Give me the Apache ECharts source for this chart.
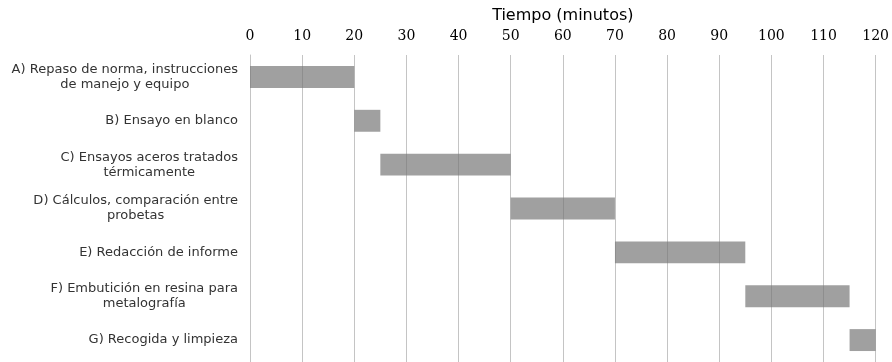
<!DOCTYPE html>
<html>
<head>
<meta charset="utf-8">
<script src="https://cdn.jsdelivr.net/npm/echarts@6/dist/echarts.min.js"></script>
<style>
  html, body { margin: 0; padding: 0; background: #fff; }
  #chart { width: 892px; height: 362px; }
</style>
</head>
<body>
<div id="chart"></div>
<script>
// Task list (top to bottom) with start times and durations, in minutes
const tasks = [
  'A) Repaso de norma, instrucciones\nde manejo y equipo',
  'B) Ensayo en blanco',
  'C) Ensayos aceros tratados\ntérmicamente',
  'D) Cálculos, comparación entre\nprobetas',
  'E) Redacción de informe',
  'F) Embutición en resina para\nmetalografía',
  'G) Recogida y limpieza'
];
const startMinutes = [0, 20, 25, 50, 70, 95, 115];
const durationMinutes = [20, 5, 25, 20, 25, 20, 5];
const axisTitle = 'Tiempo (minutos)';

const chart = echarts.init(document.getElementById('chart'));
chart.setOption({
  animation: false,
  grid: { left: 250, right: 12, top: 55, height: 309, containLabel: false },
  xAxis: {
    type: 'value',
    position: 'top',
    min: 0,
    max: 120,
    interval: 10,
    name: axisTitle,
    nameLocation: 'middle',
    nameGap: 28,
    nameTextStyle: { fontFamily: 'DejaVu Sans', fontSize: 16, color: '#000' },
    axisLine: { show: false },
    axisTick: { show: false },
    axisLabel: { fontFamily: 'DejaVu Serif', fontSize: 14, color: '#000', margin: 12 },
    splitLine: { show: true, lineStyle: { color: '#c4c4c4', width: 1 } }
  },
  yAxis: {
    type: 'category',
    inverse: true,
    data: tasks,
    axisLine: { show: true, lineStyle: { color: '#c4c4c4', width: 1 } },
    axisTick: { show: false },
    axisLabel: {
      margin: 12,
      align: 'right',
      formatter: v => '{t|' + v.split('\n').join('}\n{t|') + '}',
      rich: {
        t: { fontFamily: 'DejaVu Sans', fontSize: 13, color: '#333', align: 'center', lineHeight: 15 }
      }
    }
  },
  series: [
    {
      name: 'inicio',
      type: 'bar',
      stack: 'gantt',
      data: startMinutes,
      itemStyle: { color: 'transparent' },
      silent: true,
      barCategoryGap: '50%'
    },
    {
      name: 'duración',
      type: 'bar',
      stack: 'gantt',
      data: durationMinutes,
      itemStyle: { color: 'rgba(120,120,120,0.7)' },
      barCategoryGap: '50%'
    }
  ]
});
</script>
</body>
</html>
